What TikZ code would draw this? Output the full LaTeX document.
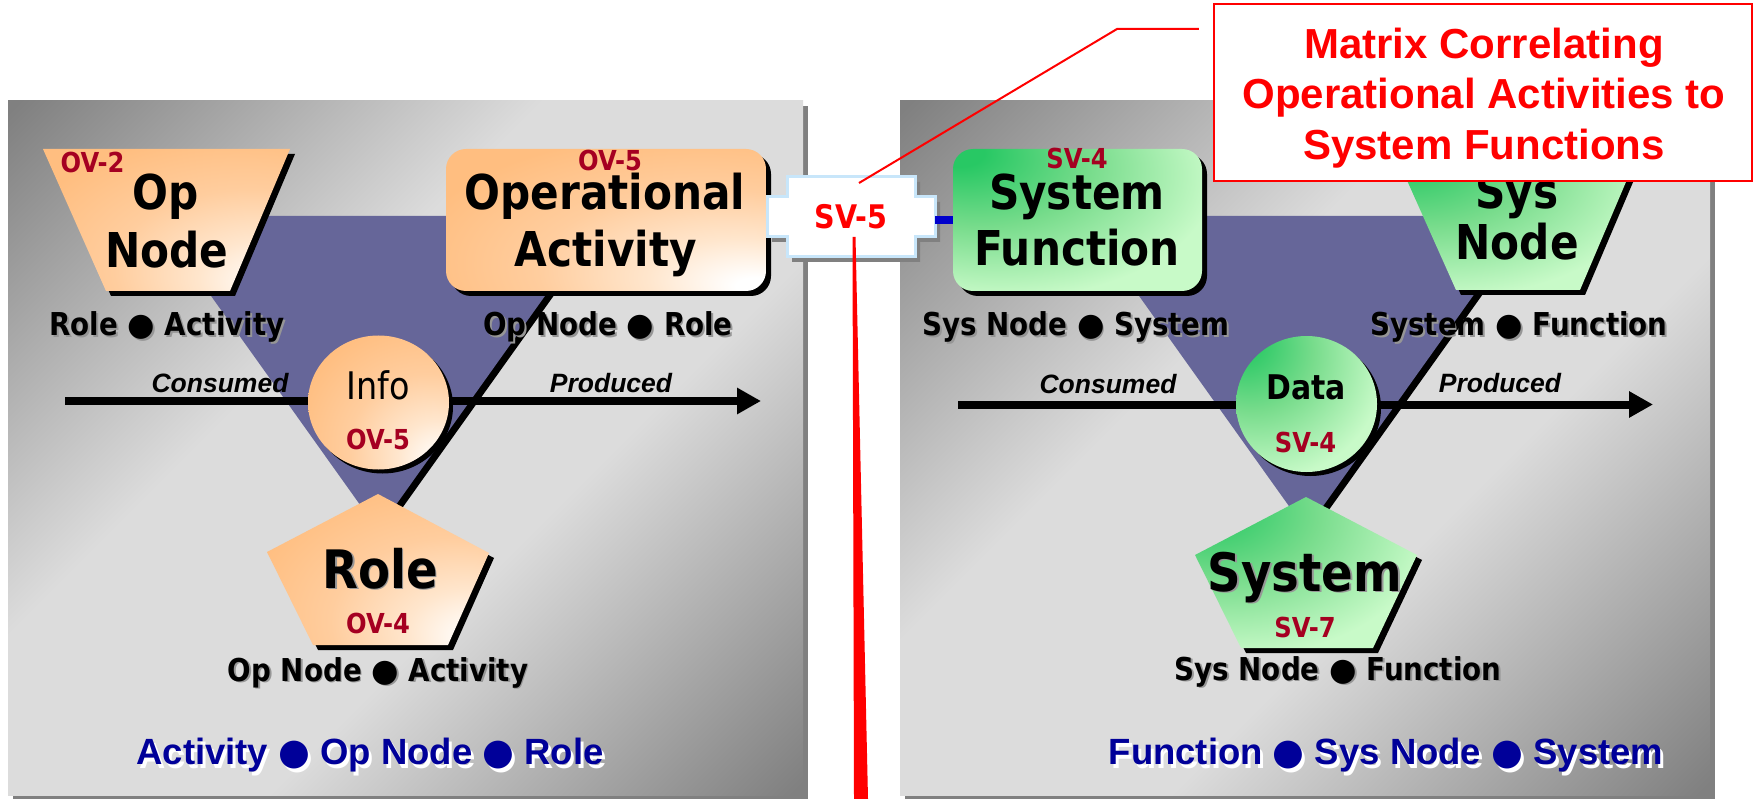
\documentclass[tikz,border=0pt]{standalone}
\usepackage{fontspec}
\usetikzlibrary{shapes.geometric,arrows.meta,shadows}

\newfontfamily\tfont{DejaVu Sans}[FakeStretch=0.88]
\newfontfamily\afont{Liberation Sans}
\newfontfamily\bulfont{DejaVu Sans}

\definecolor{peach}{RGB}{255,190,128}
\definecolor{peachA}{RGB}{255,230,205}
\definecolor{peachB}{RGB}{255,205,158}
\definecolor{mint}{RGB}{200,250,200}
\definecolor{leafmid}{RGB}{120,220,140}
\definecolor{leaf}{RGB}{40,200,100}
\definecolor{tri}{RGB}{102,102,153}
\definecolor{lbl}{RGB}{165,0,33}
\definecolor{pdark}{RGB}{128,128,128}
\definecolor{plight}{RGB}{220,220,220}
\definecolor{panelsh}{RGB}{128,128,128}
\definecolor{navy}{RGB}{0,0,153}
\definecolor{conblue}{RGB}{0,0,204}
\definecolor{crossedge}{RGB}{200,230,250}
\definecolor{txtshadow}{RGB}{150,150,150}

% panel background: dark in two opposite corners, light across the middle
\pgfdeclareverticalshading{panelshade}{100bp}{color(0bp)=(pdark); color(15bp)=(pdark); color(40bp)=(plight); color(60bp)=(plight); color(85bp)=(pdark); color(100bp)=(pdark)}
% operational shapes: white glow in the lower right, peach elsewhere
\pgfdeclareradialshading{peachshade}{\pgfpoint{24bp}{-24bp}}{color(0bp)=(white); color(3bp)=(white); color(14bp)=(peachA); color(28bp)=(peachB); color(44bp)=(peach); color(100bp)=(peach)}
% system shapes: deep green in the upper left, mint elsewhere
\pgfdeclareradialshading{greenshade}{\pgfpoint{-25bp}{25bp}}{color(0bp)=(leaf); color(5bp)=(leaf); color(22bp)=(leafmid); color(42bp)=(mint); color(100bp)=(mint)}

\newcommand{\bul}{{\bulfont\symbol{"25CF}}}
\newcommand{\greyshd}[1]{\leavevmode\rlap{\kern1.8pt\raisebox{-1.8pt}{\textcolor{txtshadow}{#1}}}#1}
\newcommand{\whiteshd}[1]{\leavevmode\rlap{\kern3pt\raisebox{-4pt}{\textcolor{white}{#1}}}#1}

\tikzset{
  dshadow/.style={drop shadow={shadow xshift=#1, shadow yshift=-#1, fill=black, opacity=1}},
  dshadow/.default=5pt,
  opshape/.style={shade, shading=peachshade},
  sysshape/.style={shade, shading=greenshade},
  ttl/.style={font=\tfont\bfseries\fontsize{48}{48}\selectfont, inner sep=0pt, anchor=base},
  bigttl/.style={font=\tfont\bfseries\fontsize{53}{53}\selectfont, inner sep=0pt, anchor=base},
  tag/.style={font=\tfont\bfseries\fontsize{27.5}{27.5}\selectfont, text=lbl, inner sep=0pt, anchor=base},
  pairs/.style={font=\tfont\bfseries\fontsize{31.5}{31.5}\selectfont, inner sep=0pt, anchor=base},
  flowtxt/.style={font=\afont\bfseries\itshape\fontsize{26.5}{26.5}\selectfont, inner sep=0pt, anchor=base},
  trio/.style={font=\afont\bfseries\fontsize{36.5}{36.5}\selectfont, text=navy, inner sep=0pt, anchor=base},
  notetxt/.style={font=\afont\bfseries\fontsize{42}{42}\selectfont, text=red, inner sep=0pt, anchor=base},
  flowline/.style={line width=8pt, -{Triangle[length=24pt,width=25pt]}},
}

\begin{document}
\begin{tikzpicture}[x=1pt,y=-1pt]
\useasboundingbox (0,0) rectangle (1758,799);
\fill[white] (0,0) rectangle (1758,799);

% ---------- panels ----------
\fill[panelsh] (13,106) rectangle (808,799);
\shade[shading=panelshade, shading angle=45] (8,101) rectangle (803,795);
\fill[panelsh] (905,106) rectangle (1715,799);
\shade[shading=panelshade, shading angle=45] (900,101) rectangle (1710,795);

% ---------- inverted triangles ----------
\fill[black] (159,221) -- (607,221) -- (383,535) -- cycle;
\fill[tri] (154,216) -- (602,216) -- (378,530) -- cycle;
\fill[black] (1087,221) -- (1535,221) -- (1311,535) -- cycle;
\fill[tri] (1082,216) -- (1530,216) -- (1306,530) -- cycle;

% ---------- flow arrows ----------
\coordinate (opin) at (65,401);
\coordinate (opout) at (761,401);
\draw[flowline] (opin) -- (opout);
\node[flowtxt] (opcons) at (220,392) {Consumed};
\node[flowtxt] (opprod) at (611,392) {Produced};

\coordinate (sysin) at (958,404.5);
\coordinate (sysout) at (1653,404.5);
\draw[flowline] (sysin) -- (sysout);
\node[flowtxt] (syscons) at (1108,393) {Consumed};
\node[flowtxt] (sysprod) at (1500,392) {Produced};

% ---------- operational side ----------
\shade[opshape, dshadow] (43,149) -- (290,149) -- (230,291) -- (106,291) -- cycle;
\node[tag] (ov2) at (92.5,172.5) {OV-2};
\node[ttl] (opnode1) at (166,210) {Op};
\node[ttl] (opnode2) at (167,268) {Node};

\node[opshape, dshadow, rounded corners=20pt, minimum width=320pt, minimum height=142pt] (opact) at (606,220) {};
\node[tag] (ov5a) at (610,171) {OV-5};
\node[ttl] (opact1) at (605,210) {Operational};
\node[ttl] (opact2) at (606,267) {Activity};

\node[ellipse, opshape, dshadow=4pt, minimum width=141pt, minimum height=134pt] (info) at (378.5,402.5) {};
\node[font=\tfont\fontsize{38}{38}\selectfont, inner sep=0pt, anchor=base] (infot) at (378.5,399) {Info};
\node[tag] (ov5b) at (378,449) {OV-5};

\shade[opshape, dshadow] (378,494) -- (489,553) -- (448,645) -- (313,645) -- (267,552) -- cycle;
\node[bigttl] (role) at (380,588) {\greyshd{Role}};
\node[tag] (ov4) at (378,633) {OV-4};

\node[pairs] (lblA) at (167,336) {\greyshd{Role \bul{} Activity}};
\node[pairs] (lblB) at (608,336) {\greyshd{Op Node \bul{} Role}};
\node[pairs] (lblC) at (378,681) {\greyshd{Op Node \bul{} Activity}};
\node[trio] (optrio) at (370,764) {\whiteshd{Activity \bul{} Op Node \bul{} Role}};

% ---------- system side ----------
\node[sysshape, dshadow, rounded corners=20pt, minimum width=249pt, minimum height=142pt] (sysfun) at (1077.5,220) {};
\node[tag] (sv4a) at (1077,169) {SV-4};
\node[ttl] (sysfun1) at (1077,210) {System};
\node[ttl] (sysfun2) at (1077,266) {Function};

\shade[sysshape, dshadow] (1393,149) -- (1640,149) -- (1580,290) -- (1456,290) -- cycle;
\node[ttl] (sysnode1) at (1517,209) {Sys};
\node[ttl] (sysnode2) at (1517,260) {Node};

\node[ellipse, sysshape, dshadow=4pt, minimum width=141pt, minimum height=136pt] (data) at (1306.5,404) {};
\node[font=\tfont\bfseries\fontsize{34}{34}\selectfont, inner sep=0pt, anchor=base] (datat) at (1306,399) {Data};
\node[tag] (sv4b) at (1305.5,452) {SV-4};

\shade[sysshape, dshadow] (1306,497) -- (1417,555) -- (1373,648) -- (1241,648) -- (1195,555) -- cycle;
\node[bigttl] (system) at (1305,591) {\greyshd{System}};
\node[tag] (sv7) at (1305,637) {SV-7};

\node[pairs] (lblD) at (1076,336) {\greyshd{Sys Node \bul{} System}};
\node[pairs] (lblE) at (1519,336) {\greyshd{System \bul{} Function}};
\node[pairs] (lblF) at (1338,680) {\greyshd{Sys Node \bul{} Function}};
\node[trio] (systrio) at (1386,764) {\whiteshd{Function \bul{} Sys Node \bul{} System}};

% ---------- SV-5 matrix link ----------
\fill[gray] (792,182) -- (920,182) -- (920,202) -- (940,202) -- (940,242) -- (920,242)
  -- (920,262) -- (792,262) -- (792,242) -- (772,242) -- (772,202) -- (792,202) -- cycle;
\draw[crossedge, line width=3pt, fill=white] (787,177) -- (915,177) -- (915,197) -- (935,197)
  -- (935,237) -- (915,237) -- (915,257) -- (787,257) -- (787,237) -- (767,237) -- (767,197)
  -- (787,197) -- cycle;
\node[font=\tfont\bfseries\fontsize{32.5}{32.5}\selectfont, text=red, inner sep=0pt,
  minimum width=168pt, minimum height=40pt] (sv5) at (851,217) {SV-5};
\draw[conblue, line width=8pt] (sv5.east |- sysfun.west) -- (sysfun.west);

% ---------- callout ----------
\node[draw=red, line width=2.5pt, fill=white, minimum width=538pt, minimum height=177pt] (callout) at (1483,92.5) {};
\node[notetxt] (note1) at (1484,58.3) {Matrix Correlating};
\node[notetxt] (note2) at (1484,109) {Operational Activities to};
\node[notetxt] (note3) at (1484,159.5) {System Functions};

\coordinate (notebend) at (1117,29);
\draw[red, line width=2pt, shorten >=14pt] ([shift={(8,-34)}]sv5.center) -- (notebend) -- (notebend -| callout.west);

\coordinate (sv5foot) at (861,799);
\fill[red] ([shift={(1.5,20)}]sv5.center) -- ([shift={(4.5,20)}]sv5.center) -- ([xshift=7pt]sv5foot) -- ([xshift=-7pt]sv5foot) -- cycle;
\end{tikzpicture}
\end{document}
